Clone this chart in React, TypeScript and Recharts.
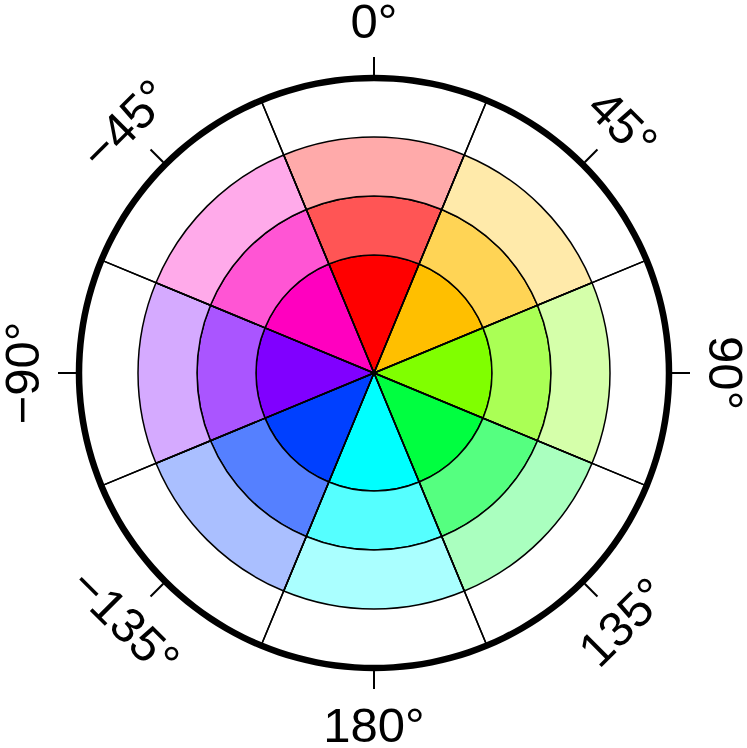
import React from "react";
import { PieChart, Pie, Cell } from "recharts";

// Sector directions (degrees clockwise from north) and their angular widths
const sectorAngles = [0, 45, 90, 135, 180, -135, -90, -45];
const sectorWidths = [45, 45, 45, 45, 45, 45, 45, 45];
const tickLabels = ["0°", "45°", "90°", "135°", "180°", "\u2212135°", "\u221290°", "\u221245°"];

// Ring colours, inner -> outer
const innerColors = ["#FF0000", "#FFBF00", "#80FF00", "#00FF40", "#00FFFF", "#0040FF", "#8000FF", "#FF00BF"];
const middleColors = ["#FF5555", "#FFD455", "#AAFF55", "#55FF80", "#55FFFF", "#5580FF", "#AA55FF", "#FF55D4"];
const outerColors = ["#FFAAAA", "#FFEAAA", "#D5FFAA", "#AAFFBF", "#AAFFFF", "#AABFFF", "#D5AAFF", "#FFAAEA"];

// Radial bounds of the rings (radius units), and frame radius
const ringEdges = [0, 2, 3, 4];
const frameRadius = 5;

const CX = 374;
const CY = 373;
const UNIT = 59;
const START = 90 + 22.5;
const END = START - 360;
const RAD = Math.PI / 180;

const sectorData = sectorAngles.map((a, i) => ({ angle: a, value: sectorWidths[i] }));
const ringColors = [innerColors, middleColors, outerColors];

const FRAME_R = frameRadius * UNIT;

const renderTick = (props: any) => {
  const { cx, cy, midAngle, index } = props;
  const c = Math.cos(-midAngle * RAD);
  const s = Math.sin(-midAngle * RAD);
  const r0 = FRAME_R + 3;
  const r1 = FRAME_R + 21;
  const rt = FRAME_R + 57;
  let rot = sectorAngles[index];
  if (rot > 90) rot -= 180;
  if (rot < -90) rot += 180;
  const tx = cx + rt * c;
  const ty = cy + rt * s;
  return (
    <g key={`tick-${index}`}>
      <line x1={cx + r0 * c} y1={cy + r0 * s} x2={cx + r1 * c} y2={cy + r1 * s} stroke="#000" strokeWidth={2} />
      <text
        transform={`translate(${tx},${ty}) rotate(${rot})`}
        x={0}
        y={17}
        textAnchor="middle"
        fontFamily="'Liberation Sans', Arial, sans-serif"
        fontSize={49}
        fill="#000"
      >
        {tickLabels[index]}
      </text>
    </g>
  );
};

export default function App() {
  return (
    <div style={{ position: "absolute", left: 0, top: 0, background: "#fff" }}>
      <PieChart width={747} height={748} margin={{ top: 0, right: 0, bottom: 0, left: 0 }}>
        {ringColors.map((colors, ri) => (
          <Pie
            key={`ring-${ri}`}
            data={sectorData}
            dataKey="value"
            cx={CX}
            cy={CY}
            innerRadius={ringEdges[ri] * UNIT}
            outerRadius={ringEdges[ri + 1] * UNIT}
            startAngle={START}
            endAngle={END}
            stroke="#000"
            strokeWidth={1.5}
            isAnimationActive={false}
          >
            {sectorData.map((_, i) => (
              <Cell key={i} fill={colors[i]} />
            ))}
          </Pie>
        ))}
        <Pie
          data={sectorData}
          dataKey="value"
          cx={CX}
          cy={CY}
          innerRadius={0}
          outerRadius={FRAME_R}
          startAngle={START}
          endAngle={END}
          stroke="#000"
          strokeWidth={1.5}
          fill="none"
          labelLine={false}
          label={renderTick}
          isAnimationActive={false}
        >
          {sectorData.map((_, i) => (
            <Cell key={i} fill="none" />
          ))}
        </Pie>
        <Pie
          data={[{ value: 1 }]}
          dataKey="value"
          cx={CX}
          cy={CY}
          innerRadius={FRAME_R - 3.25}
          outerRadius={FRAME_R + 3.25}
          startAngle={90}
          endAngle={-270}
          stroke="none"
          fill="#000"
          isAnimationActive={false}
        />
      </PieChart>
    </div>
  );
}
